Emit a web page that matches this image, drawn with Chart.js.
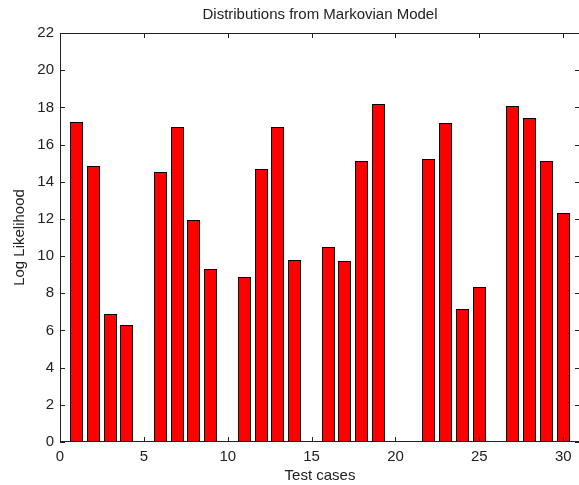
<!DOCTYPE html>
<html>
<head>
<meta charset="utf-8">
<script src="https://cdn.jsdelivr.net/npm/chart.js@4"></script>
<style>
  html, body { margin: 0; padding: 0; background: #fff; }
  #clip { width: 579px; height: 485px; overflow: hidden; }
  #wrap { width: 580px; height: 485px; }
</style>
</head>
<body>
<div id="clip"><div id="wrap"><canvas id="chart"></canvas></div></div>
<script>
// test case index and its log likelihood (null = no bar)
const testCases = [1, 2, 3, 4, 5, 6, 7, 8, 9, 10, 11, 12, 13, 14, 15,
                   16, 17, 18, 19, 20, 21, 22, 23, 24, 25, 26, 27, 28, 29, 30];
const logLikelihood = [17.23, 14.86, 6.87, 6.29, null, 14.54, 16.93, 11.96, 9.32, null,
                       8.87, 14.67, 16.93, 9.77, null, 10.51, 9.72, 15.13, 18.2, null,
                       null, 15.24, 17.18, 7.14, 8.36, null, 18.07, 17.45, 15.13, 12.3];
const xTicks = [0, 5, 10, 15, 20, 25, 30];
const yTicks = [0, 2, 4, 6, 8, 10, 12, 14, 16, 18, 20, 22];

const FONT = "'Liberation Sans', Arial, Helvetica, sans-serif";
const INK = '#222';

// snap bars to whole pixels so the black outline stays crisp
const snapPlugin = {
    id: 'snap',
    beforeDatasetsDraw(chart) {
        chart.getDatasetMeta(0).data.forEach(el => {
            if (el.skip) return;
            const w = Math.round(el.width);
            const left = Math.round(el.x - el.width / 2);
            el.width = w;
            el.x = left + w / 2;
            el.y = Math.round(el.y);
            el.base = Math.round(el.base);
        });
    }
};

// MATLAB style box with inward ticks on all sides
const boxPlugin = {
    id: 'box',
    afterDraw(chart) {
        const { ctx, chartArea: a, scales } = chart;
        const len = 5;
        ctx.save();
        ctx.strokeStyle = INK;
        ctx.lineWidth = 1;
        ctx.beginPath();
        ctx.rect(a.left + 0.5, a.top + 0.5, a.right - a.left - 1, a.bottom - a.top - 1);
        scales.x.ticks.forEach(t => {
            const px = Math.round(scales.x.getPixelForValue(t.value)) + 0.5;
            ctx.moveTo(px, a.bottom); ctx.lineTo(px, a.bottom - len);
            ctx.moveTo(px, a.top); ctx.lineTo(px, a.top + len);
        });
        scales.y.ticks.forEach(t => {
            const py = Math.round(scales.y.getPixelForValue(t.value)) + 0.5;
            ctx.moveTo(a.left, py); ctx.lineTo(a.left + len, py);
            ctx.moveTo(a.right, py); ctx.lineTo(a.right - len, py);
        });
        ctx.stroke();
        ctx.restore();
    }
};

new Chart(document.getElementById('chart'), {
    type: 'bar',
    data: {
        datasets: [{
            data: testCases.map((c, i) => ({ x: c, y: logLikelihood[i] })),
            backgroundColor: '#ff0000',
            borderColor: '#000',
            borderWidth: 1,
            borderSkipped: false,
            inflateAmount: 0,
            barPercentage: 0.8,
            categoryPercentage: 1.0
        }]
    },
    plugins: [snapPlugin, boxPlugin],
    options: {
        responsive: true,
        maintainAspectRatio: false,
        animation: false,
        layout: { padding: { top: 0, right: 0, bottom: 0, left: 0 } },
        plugins: {
            legend: { display: false },
            tooltip: { enabled: false },
            title: {
                display: true,
                fullSize: false,
                text: 'Distributions from Markovian Model',
                color: INK,
                font: { family: FONT, size: 15, weight: 'normal', lineHeight: 1.2 },
                padding: { top: 6, bottom: 9 }
            }
        },
        scales: {
            x: {
                type: 'linear',
                min: 0,
                max: 31,
                offset: false,
                grid: { display: false, drawTicks: false },
                border: { display: false },
                afterBuildTicks: s => { s.ticks = xTicks.map(v => ({ value: v })); },
                afterFit: s => { s.height = 43; },
                ticks: { color: INK, font: { family: FONT, size: 15 }, padding: 6, maxRotation: 0 },
                title: {
                    display: true, text: 'Test cases', color: INK,
                    font: { family: FONT, size: 15 }, padding: { top: 0, bottom: 0 }
                }
            },
            y: {
                min: 0,
                max: 22,
                grid: { display: false, drawTicks: false },
                border: { display: false },
                afterBuildTicks: s => { s.ticks = yTicks.map(v => ({ value: v })); },
                afterFit: s => { s.width = 60; },
                ticks: { color: INK, font: { family: FONT, size: 15 }, padding: 6 },
                title: {
                    display: true, text: 'Log Likelihood', color: INK,
                    font: { family: FONT, size: 15 }, padding: { top: 11, bottom: 0 }
                }
            }
        }
    }
});
</script>
</body>
</html>
